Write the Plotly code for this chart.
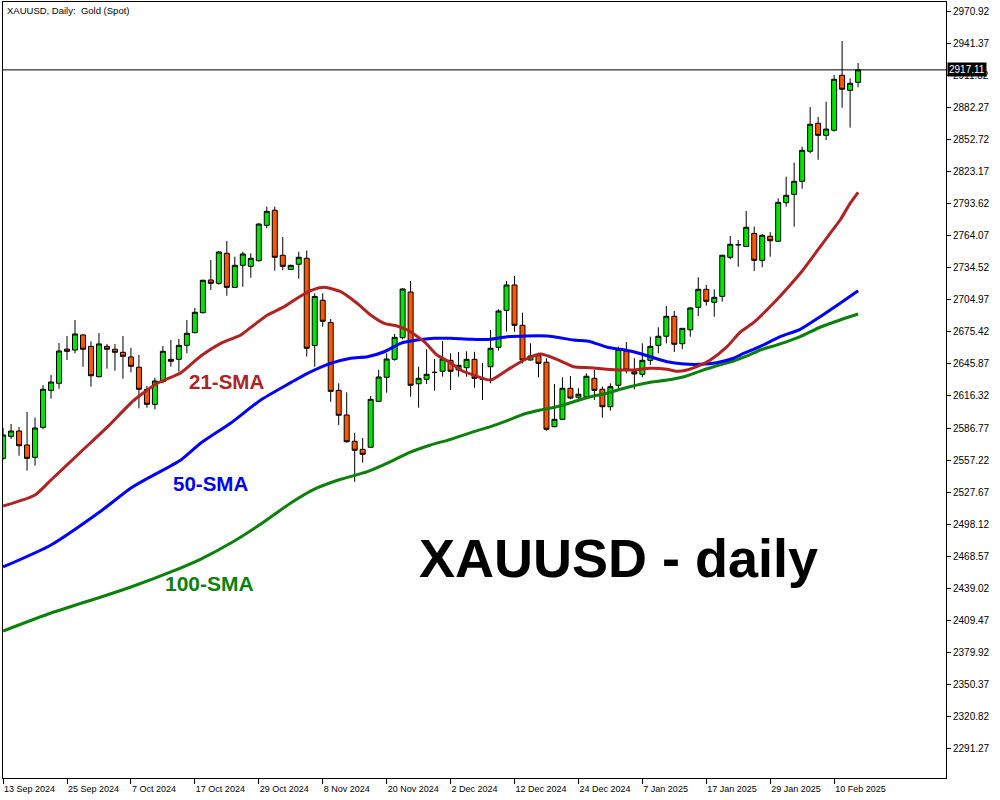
import pandas as pd
import plotly.graph_objects as go

# Trading days shown on the chart (weekdays, minus the Christmas and New Year closures)
dates = pd.bdate_range("2024-09-13", "2025-02-13").drop(pd.to_datetime(["2024-12-25", "2025-01-01"]))

open_ = [2558.8, 2579.1, 2584.0, 2571.1, 2559.7, 2587.4, 2621.5, 2628.0, 2659.6, 2658.7,
         2672.6, 2662.1, 2634.1, 2662.1, 2659.4, 2656.6, 2652.3, 2642.8, 2622.5, 2608.6,
         2629.5, 2650.1, 2650.1, 2663.0, 2674.7, 2693.1, 2723.3, 2720.2, 2747.9, 2716.5,
         2736.8, 2735.9, 2741.1, 2773.7, 2787.6, 2746.1, 2733.1, 2737.8, 2743.3, 2662.9,
         2704.6, 2684.1, 2621.5, 2598.8, 2574.5, 2567.1, 2569.0, 2611.4, 2633.5, 2650.1,
         2670.1, 2712.2, 2627.6, 2631.7, 2638.1, 2639.1, 2649.2, 2640.3, 2642.4, 2650.1,
         2631.5, 2643.3, 2661.2, 2695.3, 2718.7, 2681.5, 2649.5, 2653.5, 2647.4, 2588.0,
         2594.8, 2623.4, 2615.1, 2615.6, 2632.6, 2622.5, 2606.4, 2626.2, 2657.5, 2638.7,
         2636.3, 2649.2, 2663.0, 2671.4, 2689.8, 2664.5, 2677.4, 2698.1, 2714.7, 2702.7,
         2708.2, 2744.2, 2755.8, 2754.2, 2766.3, 2741.4, 2763.6, 2759.0, 2794.6, 2802.3,
         2814.3, 2842.0, 2867.8, 2856.7, 2861.4, 2912.1, 2898.2, 2905.6]
high = [2586.8, 2590.5, 2587.7, 2601.5, 2596.3, 2626.4, 2635.7, 2665.2, 2671.6, 2686.4,
        2673.2, 2666.7, 2674.4, 2664.3, 2664.3, 2671.6, 2660.8, 2654.1, 2625.5, 2633.2,
        2662.4, 2667.9, 2668.9, 2686.4, 2697.5, 2723.6, 2741.7, 2750.0, 2759.2, 2744.8,
        2749.4, 2747.9, 2775.6, 2790.9, 2790.9, 2762.9, 2737.5, 2749.4, 2750.5, 2711.0,
        2711.0, 2687.3, 2628.0, 2619.7, 2582.4, 2577.5, 2616.3, 2640.3, 2655.7, 2673.5,
        2715.6, 2722.4, 2643.3, 2659.4, 2650.4, 2667.0, 2655.7, 2656.9, 2657.5, 2657.1,
        2646.7, 2677.2, 2696.3, 2722.4, 2727.0, 2693.1, 2664.9, 2656.2, 2651.1, 2627.4,
        2633.5, 2634.7, 2623.4, 2637.2, 2640.3, 2625.0, 2628.0, 2661.8, 2666.1, 2651.1,
        2664.9, 2671.0, 2679.7, 2699.3, 2694.7, 2679.0, 2698.1, 2725.8, 2718.7, 2714.7,
        2746.6, 2763.9, 2760.2, 2786.9, 2772.6, 2765.7, 2767.5, 2798.6, 2818.6, 2831.5,
        2846.2, 2882.8, 2873.6, 2887.7, 2912.4, 2943.7, 2909.3, 2923.4]
low = [2557.3, 2576.6, 2561.2, 2547.4, 2552.0, 2585.6, 2613.8, 2623.0, 2649.5, 2655.7,
       2643.3, 2624.9, 2633.5, 2641.5, 2639.6, 2632.2, 2638.1, 2604.9, 2605.5, 2604.0,
       2628.0, 2643.3, 2638.7, 2655.7, 2674.1, 2692.6, 2714.0, 2718.9, 2708.8, 2716.0,
       2717.1, 2725.4, 2740.2, 2771.0, 2731.9, 2732.2, 2732.5, 2724.5, 2652.7, 2643.3,
       2680.2, 2611.0, 2589.5, 2573.2, 2537.2, 2554.8, 2568.5, 2611.0, 2619.3, 2648.8,
       2668.6, 2615.6, 2605.5, 2627.4, 2621.2, 2634.1, 2621.8, 2634.1, 2634.1, 2623.9,
       2612.6, 2628.0, 2658.1, 2675.6, 2675.6, 2646.4, 2649.0, 2633.5, 2584.3, 2587.4,
       2594.2, 2613.2, 2612.6, 2615.3, 2612.6, 2596.3, 2602.7, 2622.7, 2637.2, 2622.5,
       2633.5, 2644.9, 2655.7, 2664.9, 2656.9, 2659.4, 2671.0, 2690.1, 2699.6, 2689.4,
       2703.3, 2742.4, 2735.5, 2754.0, 2731.6, 2735.0, 2744.8, 2758.5, 2790.9, 2772.4,
       2807.5, 2840.1, 2834.2, 2852.4, 2860.1, 2882.2, 2863.8, 2901.0]
close = [2580.3, 2584.0, 2570.4, 2558.8, 2586.8, 2622.5, 2629.2, 2657.8, 2657.5, 2673.5,
         2659.4, 2635.0, 2664.3, 2659.4, 2656.6, 2652.9, 2643.7, 2622.5, 2608.6, 2630.1,
         2657.5, 2648.3, 2663.0, 2674.1, 2693.5, 2723.0, 2720.2, 2749.1, 2716.5, 2736.8,
         2747.3, 2743.3, 2774.9, 2786.6, 2744.2, 2735.9, 2736.8, 2744.2, 2660.3, 2708.1,
         2685.2, 2620.6, 2598.5, 2574.1, 2566.2, 2562.5, 2613.2, 2633.8, 2650.4, 2670.4,
         2715.0, 2626.2, 2632.6, 2636.3, 2638.1, 2650.4, 2639.1, 2644.6, 2650.1, 2632.6,
         2632.5, 2660.3, 2694.7, 2718.7, 2681.5, 2649.5, 2653.2, 2646.4, 2585.6, 2594.8,
         2623.4, 2614.4, 2617.9, 2634.5, 2621.5, 2606.4, 2624.9, 2659.2, 2640.3, 2636.6,
         2649.2, 2662.1, 2671.4, 2689.8, 2664.0, 2678.7, 2697.5, 2714.7, 2703.6, 2707.3,
         2746.1, 2756.2, 2755.8, 2771.9, 2741.4, 2764.5, 2759.5, 2794.9, 2801.4, 2814.3,
         2842.9, 2866.9, 2856.7, 2862.5, 2908.4, 2899.2, 2904.7, 2917.11]

# Moving averages, sampled along each line (bar position, price)
sma21_bar = [0, 4, 6, 9.75, 13.1, 16.4, 19.3, 22.25, 24.75, 27.25, 29.75, 31.4, 33.1, 35.2,
             36.8, 38.5, 40.2, 42.25, 44.3, 46, 47.7, 49.3, 50.6, 52.7, 54.3, 56, 57.25, 58.9,
             61, 63.1, 65.2, 67.25, 69.3, 71.4, 73.5, 75.6, 77.25, 78.9, 81, 83.1, 84.3, 85.6,
             86.8, 88.5, 90.6, 92.25, 93.9, 96.4, 98.5, 100, 101.8, 103.5, 104.75, 106, 107]
sma21_val = [2514.8, 2525.0, 2538.8, 2564.9, 2588.0, 2612.6, 2628.0, 2637.8, 2653.2, 2664.9,
             2672.6, 2681.8, 2691.0, 2698.7, 2706.4, 2713.4, 2716.5, 2712.5, 2701.8, 2691.0,
             2683.3, 2680.9, 2677.2, 2666.4, 2654.1, 2647.0, 2640.3, 2635.6, 2631.0, 2640.3,
             2649.5, 2655.0, 2650.1, 2643.3, 2642.4, 2640.9, 2640.3, 2640.3, 2641.8, 2640.9,
             2639.1, 2640.3, 2643.3, 2649.5, 2661.8, 2675.3, 2683.9, 2701.8, 2718.7, 2731.6,
             2749.4, 2766.3, 2778.6, 2794.0, 2804.2]

sma50_bar = [0, 6, 12.25, 16, 18.1, 22.25, 24.75, 28.5, 32.25, 36, 38.1, 41, 43.5, 45.6, 47.7,
             49.75, 51.8, 53.9, 56, 58.5, 61, 63.1, 68.1, 71.4, 73.5, 75.6, 77.25, 78.9, 81,
             83.1, 85.2, 87.25, 89.3, 91.4, 92.25, 94.75, 97.25, 99.75, 102.25, 104.75, 107]
sma50_val = [2458.6, 2478.9, 2510.2, 2531.4, 2540.4, 2557.3, 2572.9, 2591.4, 2612.6, 2628.6,
             2637.2, 2646.4, 2651.1, 2652.5, 2657.1, 2664.9, 2667.9, 2669.5, 2669.5, 2668.6,
             2668.6, 2671.0, 2671.6, 2667.9, 2666.4, 2661.2, 2659.4, 2657.1, 2652.5, 2647.9,
             2645.8, 2645.5, 2647.0, 2651.1, 2654.1, 2662.0, 2671.0, 2677.8, 2689.4, 2701.8,
             2713.4]

sma100_bar = [0, 6, 12.25, 16, 21, 24.75, 28.5, 32.25, 36, 38.9, 42.25, 45.6, 48.5, 50.6, 53.5,
              56, 58.9, 61, 63.1, 65.2, 67.25, 69.3, 71.4, 73.5, 75.6, 77.25, 81, 83.1, 85.2,
              87.25, 89.3, 91.4, 93.1, 94.75, 97.25, 99.75, 102.25, 104.75, 107]
sma100_val = [2399.5, 2416.1, 2430.9, 2440.1, 2454.0, 2465.9, 2480.7, 2498.2, 2517.6, 2530.2,
              2539.5, 2546.5, 2555.7, 2563.4, 2571.1, 2576.3, 2583.4, 2588.0, 2593.5, 2599.7,
              2603.4, 2606.4, 2611.0, 2615.6, 2618.8, 2622.5, 2628.9, 2631.0, 2634.1, 2639.3,
              2644.2, 2648.6, 2653.2, 2658.7, 2664.3, 2671.0, 2679.7, 2686.4, 2691.9]

# Price scale labels
y_tick_labels = ["2291.27", "2320.82", "2350.37", "2379.92", "2409.47", "2439.02", "2468.57",
                 "2498.12", "2527.67", "2557.22", "2586.77", "2616.32", "2645.87", "2675.42",
                 "2704.97", "2734.52", "2764.07", "2793.62", "2823.17", "2852.72", "2882.27",
                 "2911.82", "2941.37", "2970.92"]
last_price = close[-1]

BULL = "#00E600"
BEAR = "#FF5500"

bars = list(range(len(dates)))
x_tick_idx = list(range(0, len(dates) - 3, 8))
x_tick_text = [f"{dates[i].day} {dates[i].strftime('%b %Y')}" for i in x_tick_idx]

fig = go.Figure()

fig.add_trace(go.Candlestick(
    x=bars, open=open_, high=high, low=low, close=close,
    increasing=dict(fillcolor=BULL, line=dict(color="black", width=1)),
    decreasing=dict(fillcolor=BEAR, line=dict(color="black", width=1)),
    whiskerwidth=0,
    text=[d.strftime("%d %b %Y") for d in dates],
    name="XAUUSD",
))

for xs, ys, col, nm in [
    (sma100_bar, sma100_val, "#0B800B", "100-SMA"),
    (sma50_bar, sma50_val, "#0000FF", "50-SMA"),
    (sma21_bar, sma21_val, "#B22222", "21-SMA"),
]:
    fig.add_trace(go.Scatter(
        x=xs, y=ys, mode="lines", name=nm,
        line=dict(color=col, width=3, shape="spline", smoothing=0.6),
        hoverinfo="skip",
    ))

# Last price line and its marker on the price scale
fig.add_shape(type="line", xref="paper", x0=0, x1=1, yref="y", y0=last_price, y1=last_price,
              line=dict(color="black", width=1))
fig.add_annotation(xref="paper", x=1, yref="y", y=last_price, text=f"{last_price:.2f}",
                   xanchor="left", yanchor="middle", showarrow=False, xshift=1,
                   bgcolor="black", font=dict(color="white", size=10, family="Liberation Sans"),
                   borderpad=1)

# Labels
label_font = "Liberation Sans, Arial, sans-serif"
fig.add_annotation(x=28, y=2630.1, text="<b>21-SMA</b>", showarrow=False,
                   font=dict(color="#B22222", size=20.5, family=label_font))
fig.add_annotation(x=25.9, y=2536.0, text="<b>50-SMA</b>", showarrow=False,
                   font=dict(color="#0000FF", size=20.5, family=label_font))
fig.add_annotation(x=25.8, y=2442.9, text="<b>100-SMA</b>", showarrow=False,
                   font=dict(color="#0B800B", size=21, family=label_font))
fig.add_annotation(x=77, y=2466.9, text="<b>XAUUSD - daily</b>", showarrow=False,
                   font=dict(color="black", size=54, family=label_font))
fig.add_annotation(xref="paper", yref="paper", x=0, y=1, xanchor="left", yanchor="top",
                   xshift=2, yshift=-1, showarrow=False,
                   text="XAUUSD, Daily:  Gold (Spot)",
                   font=dict(color="black", size=9.5, family=label_font))

fig.update_layout(
    width=1000, height=800,
    margin=dict(l=3, r=54, t=2, b=22),
    plot_bgcolor="white", paper_bgcolor="white",
    showlegend=False,
    boxgap=0.375, boxgroupgap=0,
    font=dict(family=label_font, color="black"),
    xaxis=dict(
        range=[-0.01, 118], tickvals=x_tick_idx, ticktext=x_tick_text,
        showgrid=False, zeroline=False, showline=True, linecolor="black", linewidth=1,
        mirror=True, ticks="outside", ticklen=5, tickcolor="black",
        ticklabelposition="outside right", ticklabelstandoff=2, tickfont=dict(size=9),
        rangeslider=dict(visible=False),
    ),
    yaxis=dict(
        side="right", range=[2263.95, 2979.7],
        tickvals=[float(v) for v in y_tick_labels], ticktext=y_tick_labels,
        showgrid=False, zeroline=False, showline=True, linecolor="black", linewidth=1,
        mirror=True, ticks="outside", ticklen=4, tickcolor="black",
        tickfont=dict(size=10),
    ),
)

fig.write_html("out.html")
